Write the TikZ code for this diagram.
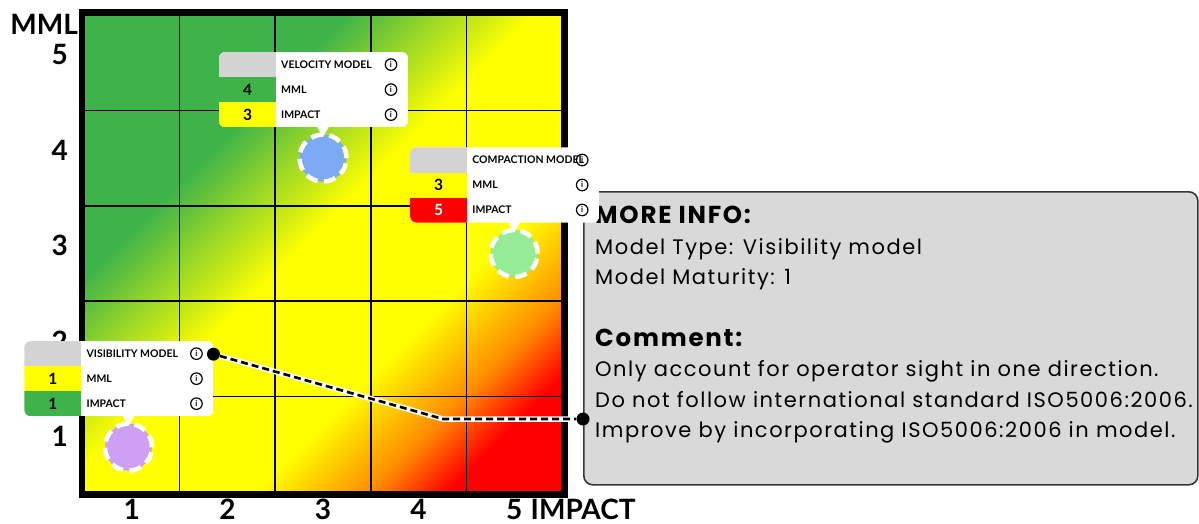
\documentclass[tikz,border=0pt]{standalone}
\usepackage{fontspec}
\setmainfont{Lato}
\newfontfamily\infofont[LetterSpace=7.3]{Poppins}
\usetikzlibrary{positioning,calc}

\definecolor{riskgreen}{RGB}{61,179,74}
\definecolor{riskyellow}{RGB}{255,255,0}
\definecolor{riskorange}{RGB}{255,140,0}
\definecolor{riskred}{RGB}{255,0,0}
\definecolor{cardgray}{RGB}{211,211,211}
\definecolor{pinblue}{RGB}{125,170,245}
\definecolor{pingreen}{RGB}{150,235,150}
\definecolor{pinpurple}{RGB}{205,160,245}
\definecolor{boxgray}{RGB}{217,217,217}
\definecolor{boxline}{RGB}{55,55,55}

\pgfdeclarehorizontalshading{riskmap}{100bp}{color(0bp)=(riskgreen); color(34bp)=(riskgreen); color(48bp)=(riskyellow); color(62.7bp)=(riskyellow); color(71.2bp)=(riskorange); color(77bp)=(riskred); color(100bp)=(riskred)}

\tikzset{
  gridline/.style={line width=1.5pt, black},
  plotframe/.style={line width=5.5pt, black},
  axislabel/.style={font=\fontsize{28}{30}\selectfont\bfseries, inner sep=0pt},
  modelpin/.style={circle, draw=white, line width=4.5pt, dash pattern=on 12pt off 6.6pt, minimum size=47pt, inner sep=0pt},
  cardnum/.style={font=\fontsize{15.5}{16}\selectfont\bfseries, inner sep=0pt},
  cardlabel/.style={font=\fontsize{10.5}{12}\selectfont\bfseries, anchor=west, inner sep=0pt},
  infoicon/.style={circle, draw=black, line width=1.2pt, minimum size=11.5pt, inner sep=0pt, font=\fontsize{8}{8}\selectfont\bfseries},
  linkdot/.style={circle, fill=black, inner sep=0pt, minimum size=13pt},
  linkline/.style={line width=2.6pt, dash pattern=on 7pt off 4pt, preaction={draw=white, solid, line width=5.5pt}},
  infopanel/.style={draw=boxline, line width=1.6pt, fill=boxgray, rounded corners=9pt, inner sep=0pt},
  infohead/.style={font=\infofont\fontsize{24.5}{26}\selectfont\bfseries, anchor=base west, inner sep=0pt},
  infobody/.style={font=\infofont\fontsize{21}{24}\selectfont, anchor=base west, inner sep=0pt},
}

% card above a pin: pin, title, mml, mml colour, impact, impact colour, impact text colour
\newcommand{\modelcard}[7]{%
  \begin{scope}[shift={(#1.center)}]
    \begin{scope}
      \clip[rounded corners=6pt] (-104,-106) rectangle (85,-31);
      \fill[white] (-104,-106) rectangle (85,-31);
      \fill[cardgray] (-104,-106) rectangle (-47,-81);
      \fill[#4] (-104,-81) rectangle (-47,-56);
      \fill[#6] (-104,-56) rectangle (-47,-31);
    \end{scope}
    \fill[white] (-6,-31.5) -- (0,-21) -- (6,-31.5) -- cycle;
    \node[cardnum] (#1-mml) at (-75.5,-68.5) {#3};
    \node[cardnum, text=#7] (#1-impact) at (-75.5,-43.5) {#5};
    \node[cardlabel] (#1-title) at (-42,-93.5) {#2};
    \node[cardlabel] (#1-mmllabel) at (-42,-68.5) {MML};
    \node[cardlabel] (#1-impactlabel) at (-42,-43.5) {IMPACT};
    \foreach \yy [count=\k] in {-93.5,-68.5,-43.5}
      \node[infoicon] (#1-info\k) at (68,\yy) {i};
  \end{scope}}

\begin{document}
\begin{tikzpicture}[x=1pt,y=-1pt]
  \fill[white] (0,0) rectangle (1199,524);

  % risk matrix, one unit per cell
  \begin{scope}[shift={(84,492)}, x=95.6pt, y=95.4pt]
    \shade[shading=riskmap, shading angle=-45] (0,0) rectangle (5,5);
    \draw[gridline, step=1] (0,0) grid (5,5);
    \draw[plotframe] ([shift={(-2.75pt,-2.75pt)}]0,0) rectangle ([shift={(2.75pt,2.75pt)}]5,5);

    \foreach \m in {1,...,5}
      \node[axislabel, anchor=east] (mml\m) at (-0.167,\m-0.415) {\m};
    \foreach \i in {1,...,5}
      \node[axislabel] (imp\i) at (\i-0.5,-0.18) {\i};
    \node[axislabel, anchor=base west] (impactname) at ([xshift=8pt]imp5.base east) {IMPACT};
    \node[axislabel, anchor=base east] (mmlname) at ([shift={(10pt,30pt)}]mml5.base east) {MML};

    \node[modelpin, fill=pinblue] (velpin) at (2.5,3.5) {};
    \node[modelpin, fill=pingreen] (comppin) at (4.5,2.5) {};
    \node[modelpin, fill=pinpurple] (vispin) at (0.465,0.47) {};
  \end{scope}

  \modelcard{velpin}{VELOCITY MODEL}{4}{riskgreen}{3}{riskyellow}{black}
  \modelcard{vispin}{VISIBILITY MODEL}{1}{riskyellow}{1}{riskgreen}{black}

  % more info panel
  \node[infopanel, anchor=north west, minimum width=614pt, minimum height=293pt] (infobox) at (583,191) {};
  \node[infohead] (morehead) at (595,223) {MORE INFO:};
  \node[infobody] (typeline) at (595,254) {Model Type: Visibility model};
  \node[infobody] (maturityline) at (595,284) {Model Maturity: 1};
  \node[infohead] (commenthead) at (595,346) {Comment:};
  \foreach \txt [count=\k] in {Only account for operator sight in one direction., Do not follow international standard ISO5006:2006., Improve by incorporating ISO5006:2006 in model.}
    \node[infobody] (commentline\k) at ([yshift={-\k*30.5pt}]commenthead.base west) {\txt};

  % link from the selected card to the panel
  \node[linkdot] (visdot) at ([shift={(85,-93)}]vispin.center) {};
  \coordinate (linkbend) at (443,419);
  \node[linkdot] (infodot) at (infobox.west |- linkbend) {};
  \draw[linkline] (visdot) -- (linkbend) -- (infodot);

  \modelcard{comppin}{COMPACTION MODEL}{3}{riskyellow}{5}{riskred}{white}
\end{tikzpicture}
\end{document}
